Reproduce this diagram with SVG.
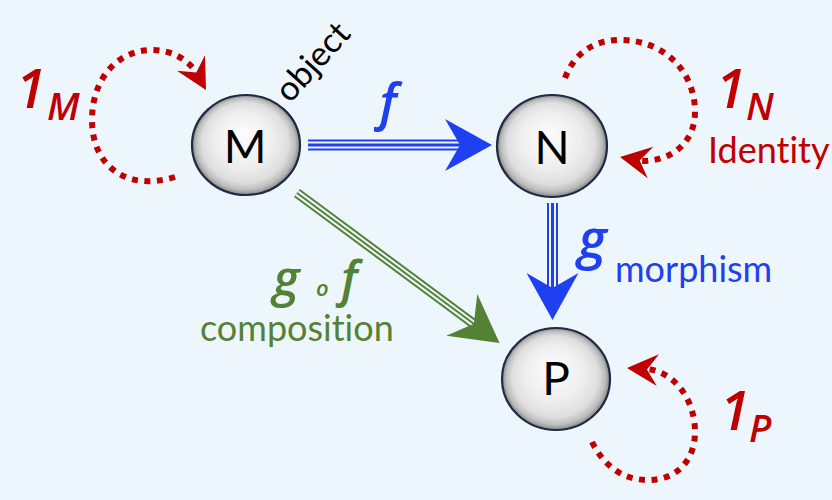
<svg xmlns="http://www.w3.org/2000/svg" width="832" height="500" viewBox="0 0 832 500">
<defs>
<radialGradient id="sphere" cx="0.5" cy="0.5" r="0.5" fx="0.46" fy="0.38">
<stop offset="0" stop-color="#fdfdfd"/>
<stop offset="0.55" stop-color="#eeeeee"/>
<stop offset="0.8" stop-color="#dedede"/>
<stop offset="0.92" stop-color="#bcbcbc"/>
<stop offset="1" stop-color="#858585"/>
</radialGradient>
<path id="head" d="M0,0 L-47,-26 L-32,0 L-47,26 Z"/>
<path id="rhead" d="M0,0 L-31,-16 L-20,0 L-31,16 Z"/>
</defs>
<style>
text{font-variant-ligatures:none}
.node ellipse{fill:url(#sphere);stroke:#1e2b44;stroke-width:2.2}
.node text{font-family:Lato,"Open Sans",sans-serif;font-size:46px;fill:#000;text-anchor:middle}
.loop{fill:none;stroke:#c00000;stroke-width:6;stroke-dasharray:6 6.5}
.red{fill:#c00000}
.math{font-family:"Open Sans","Noto Sans",sans-serif;font-style:italic;font-weight:600}
.lbl{font-family:Lato,"Open Sans",sans-serif;font-size:36px}
</style>
<rect width="832" height="500" fill="#eef6fd"/>
<g id="connectors">
<g id="f-arrow">
<line x1="308" y1="145" x2="461" y2="145" stroke="#1f40f0" stroke-width="11"/>
<line x1="308" y1="145" x2="462" y2="145" stroke="#eef6fd" stroke-width="7"/>
<line x1="308" y1="145" x2="462" y2="145" stroke="#1f40f0" stroke-width="3"/>
<use href="#head" transform="translate(492,145)" fill="#1f40f0"/>
</g>
<g id="g-arrow">
<line x1="552.5" y1="203" x2="552.5" y2="289" stroke="#1f40f0" stroke-width="11"/>
<line x1="552.5" y1="203" x2="552.5" y2="290" stroke="#eef6fd" stroke-width="7"/>
<line x1="552.5" y1="203" x2="552.5" y2="290" stroke="#1f40f0" stroke-width="3"/>
<use href="#head" transform="translate(552.5,320) rotate(90)" fill="#1f40f0"/>
</g>
<g id="gf-arrow" transform="translate(297,193) rotate(36.5)">
<line x1="0" y1="0" x2="221" y2="0" stroke="#548235" stroke-width="10"/>
<line x1="0" y1="0" x2="222" y2="0" stroke="#eef6fd" stroke-width="6"/>
<line x1="0" y1="0" x2="222" y2="0" stroke="#548235" stroke-width="2"/>
<use href="#head" transform="translate(252,0)" fill="#548235"/>
</g>
<g id="loop-M">
<path class="loop" d="M175,177 C125,192 92,165 92,120 C92,78 118,50 152,50 C172,50 188,60 196,72"/>
<use href="#rhead" class="red" transform="translate(206,90) rotate(61)"/>
</g>
<g id="loop-N">
<path class="loop" d="M565,78 C575,52 595,40 620,40 C665,40 695,72 695,112 C695,142 672,162 640,161"/>
<use href="#rhead" class="red" transform="translate(620,157) rotate(190)"/>
</g>
<g id="loop-P">
<path class="loop" d="M592,442 C605,468 625,480 648,480 C677,480 695,460 695,432 C695,400 675,372 647,369"/>
<use href="#rhead" class="red" transform="translate(627,368) rotate(184)"/>
</g>
</g>
<g id="node-M" class="node">
<ellipse cx="246" cy="145" rx="54" ry="50"/>
<text x="245" y="163">M</text>
</g>
<g id="node-N" class="node">
<ellipse cx="552" cy="146" rx="55" ry="51"/>
<text x="552" y="164">N</text>
</g>
<g id="node-P" class="node">
<ellipse cx="556" cy="379" rx="54" ry="51"/>
<text x="556" y="395">P</text>
</g>
<g id="labels">
<text class="lbl" x="290" y="104" transform="rotate(-48 290 104)" style="font-size:34px">object</text>
<text class="math" x="388" y="120" font-size="50" fill="#1f40f0" text-anchor="middle">f</text>
<text class="math" x="578" y="258" font-size="54" fill="#1f40f0">g</text>
<text class="lbl" x="615" y="282" fill="#1f40f0">morphism</text>
<text class="math" y="296" fill="#548235"><tspan x="273" font-size="50">g</tspan><tspan x="316" font-size="22">o</tspan><tspan x="341" font-size="48">f</tspan></text>
<text class="lbl" x="200" y="341" fill="#548235">composition</text>
<text class="math red"><tspan x="16" y="108" font-size="54">1</tspan><tspan x="47" y="120" font-size="38">M</tspan></text>
<text class="math red"><tspan x="716" y="108" font-size="54">1</tspan><tspan x="746" y="120" font-size="38">N</tspan></text>
<text class="lbl red" x="708" y="163">Identity</text>
<text class="math red"><tspan x="720" y="430" font-size="54">1</tspan><tspan x="749" y="442" font-size="38">P</tspan></text>
</g>
</svg>
